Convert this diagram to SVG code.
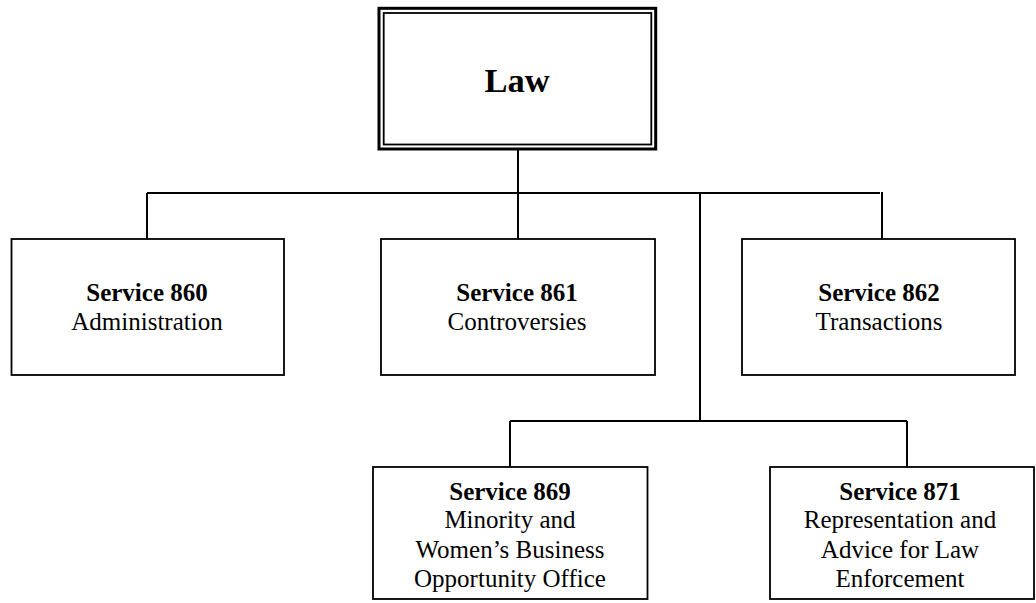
<svg xmlns="http://www.w3.org/2000/svg" width="1036" height="603" viewBox="0 0 1036 603">
<style>
.box{fill:#fff;stroke:#000;stroke-width:1.8}
.conn{fill:none;stroke:#000;stroke-width:2}
.t{font-size:25px;font-weight:bold}
.s{font-size:25px}
</style>
<rect width="1036" height="603" fill="#fff"/>
<g id="connectors">
<path class="conn" d="M518 150V193M147 193H880M147 193V239M518 193V239M882 192V239M700 193V421M510 421H907M510 421V467M907 421V467"/>
</g>
<g font-family="Liberation Serif, serif" text-anchor="middle" fill="#000">
<g id="law">
<rect x="379" y="8.3" width="276.7" height="140.7" fill="#fff" stroke="#000" stroke-width="3"/>
<rect x="383.7" y="13" width="267.6" height="131.5" fill="none" stroke="#000" stroke-width="1.8"/>
<text x="517" y="92" font-size="34.5" font-weight="bold">Law</text>
</g>
<g id="s860">
<rect class="box" x="11.5" y="239" width="272.5" height="136"/>
<text class="t" x="147" y="301">Service 860</text>
<text class="s" x="147" y="330">Administration</text>
</g>
<g id="s861">
<rect class="box" x="381" y="239" width="274" height="136"/>
<text class="t" x="517" y="301">Service 861</text>
<text class="s" x="517" y="330">Controversies</text>
</g>
<g id="s862">
<rect class="box" x="742" y="239" width="273" height="136"/>
<text class="t" x="879" y="301">Service 862</text>
<text class="s" x="879" y="330">Transactions</text>
</g>
<g id="s869">
<rect class="box" x="373" y="467" width="274.5" height="132"/>
<text class="t" x="510" y="500">Service 869</text>
<text class="s" x="510" y="528">Minority and</text>
<text class="s" x="510" y="557.5">Women’s Business</text>
<text class="s" x="510" y="587">Opportunity Office</text>
</g>
<g id="s871">
<rect class="box" x="770" y="467" width="264" height="132"/>
<text class="t" x="900" y="500">Service 871</text>
<text class="s" x="900" y="528">Representation and</text>
<text class="s" x="900" y="557.5">Advice for Law</text>
<text class="s" x="900" y="587">Enforcement</text>
</g>
</g>
</svg>
